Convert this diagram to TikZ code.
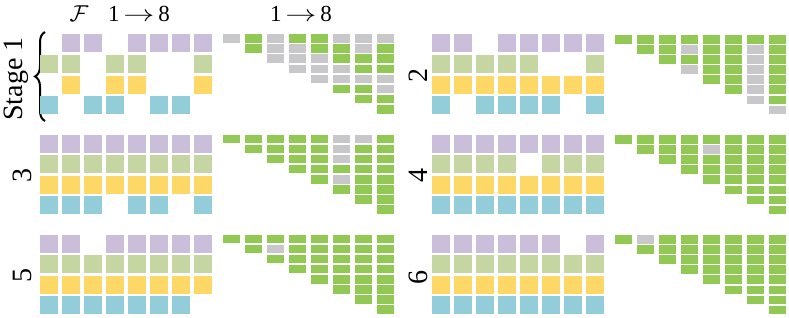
\RequirePackage{fix-cm}
\documentclass[tikz,border=0pt]{standalone}
\usepackage{fontspec}
\setmainfont{Liberation Serif}
\usetikzlibrary{decorations.pathreplacing}
\definecolor{cpurp}{RGB}{203,190,218}
\definecolor{clgreen}{RGB}{197,214,162}
\definecolor{cyellow}{RGB}{254,216,102}
\definecolor{cblue}{RGB}{148,205,218}
\definecolor{cgreen}{RGB}{146,200,84}
\definecolor{cgray}{RGB}{200,200,202}
\newcommand\sqrow[4]{\foreach \b [count=\i from 0] in {#4}{\ifnum\b=1 \fill[#3] ({#1+22*\i},{#2}) rectangle ++(17.5,18);\fi}}
\newcommand\sqpanel[6]{%
  \sqrow{#1}{#2}{cpurp}{#3}%
  \sqrow{#1}{#2+20.6}{clgreen}{#4}%
  \sqrow{#1}{#2+41.2}{cyellow}{#5}%
  \sqrow{#1}{#2+61.8}{cblue}{#6}}
\newcommand\tripanel[3]{%
  \foreach \col [count=\j from 0] in {#3}{%
    \foreach \b [count=\r from 0] in \col {%
      \ifnum\b=1 \fill[cgreen] ({#1+22*\j},{#2+10.1*\r}) rectangle ++(17.3,8.6);%
      \else \fill[cgray] ({#1+22*\j},{#2+10.1*\r}) rectangle ++(17.3,8.6);\fi}}}
\tikzset{
  toplabel/.style={font=\fontsize{23}{27}\selectfont, inner sep=0pt},
  stagelabel/.style={font=\fontsize{28}{32}\selectfont, rotate=90, inner sep=0pt}
}
\begin{document}
\begin{tikzpicture}[x=1pt,y=-1pt]
\useasboundingbox (0,0) rectangle (789,318);
% top labels
\node[toplabel] (F) at (79,14) {$\mathcal{F}$};
\node[toplabel] (l1) at (139,14) {1\,\scalebox{1.35}[1]{$\rightarrow$}\,8};
\node[toplabel] (l2) at (301,14) {1\,\scalebox{1.35}[1]{$\rightarrow$}\,8};
% stage labels
\node[stagelabel] (s1) at (16,79) {Stage 1};
\draw[line width=2pt, decorate, decoration={brace, amplitude=10pt}] (45,121) -- (45,32);
\node[stagelabel] (s2) at (418,76) {2};
\node[stagelabel] (s3) at (22,175) {3};
\node[stagelabel] (s4) at (418,175) {4};
\node[stagelabel] (s5) at (22,275) {5};
\node[stagelabel] (s6) at (418,277) {6};
% square panels
\sqpanel{40}{34.5}{0,1,1,0,1,1,1,1}{1,1,0,1,1,0,0,1}{0,1,0,1,1,0,0,1}{1,0,1,1,0,1,1,0}
\sqpanel{432}{34.5}{1,1,0,1,1,1,1,1}{1,1,1,1,1,0,0,1}{1,1,1,1,1,1,1,1}{1,0,1,1,1,1,0,1}
\sqpanel{40}{134.5}{1,1,1,1,1,1,1,1}{1,1,1,1,1,1,1,1}{1,1,1,1,1,1,1,1}{1,1,1,0,1,1,0,1}
\sqpanel{432}{134.5}{1,1,1,1,1,1,1,1}{1,1,1,1,0,1,1,1}{1,1,1,1,1,1,1,1}{1,1,1,1,1,1,1,1}
\sqpanel{40}{234.5}{1,1,0,1,1,1,1,1}{1,1,1,1,1,1,1,1}{1,1,1,1,1,1,1,1}{1,1,1,1,1,1,1,0}
\sqpanel{432}{234.5}{1,1,1,1,1,1,0,1}{1,1,1,1,1,1,1,1}{1,1,1,1,1,1,1,1}{1,1,1,1,1,1,1,1}
% triangle panels
\tripanel{223}{34.3}{{0},{1,1},{0,0,0},{1,0,0,0},{1,1,0,0,0},{0,1,1,0,0,1},{0,0,1,1,0,1,1},{0,1,1,1,0,0,1,1}}
\tripanel{615}{35}{{1},{1,1},{1,1,1},{1,0,1,0},{1,1,1,1,1},{1,1,1,1,1,1},{1,0,0,0,0,0,0},{1,1,1,1,1,1,1,0}}
\tripanel{223}{134.5}{{1},{1,1},{1,1,1},{1,1,1,1},{1,1,1,1,1},{0,0,0,1,0,1},{0,1,1,1,1,1,1},{1,1,1,1,1,1,1,1}}
\tripanel{615}{135}{{1},{1,1},{1,1,1},{1,1,1,1},{1,0,1,1,1},{1,1,1,1,1,1},{1,1,1,1,1,1,1},{1,1,1,1,1,1,1,1}}
\tripanel{223}{234.5}{{1},{1,1},{1,0,1},{1,1,1,1},{1,1,1,1,1},{1,1,1,1,1,1},{1,1,1,1,1,1,1},{1,1,1,1,1,1,1,1}}
\tripanel{615}{235}{{1},{0,1},{1,1,1},{1,1,1,1},{1,1,1,1,1},{1,1,1,1,1,1},{1,1,1,1,1,1,1},{1,1,1,1,1,1,1,1}}
\end{tikzpicture}
\end{document}
